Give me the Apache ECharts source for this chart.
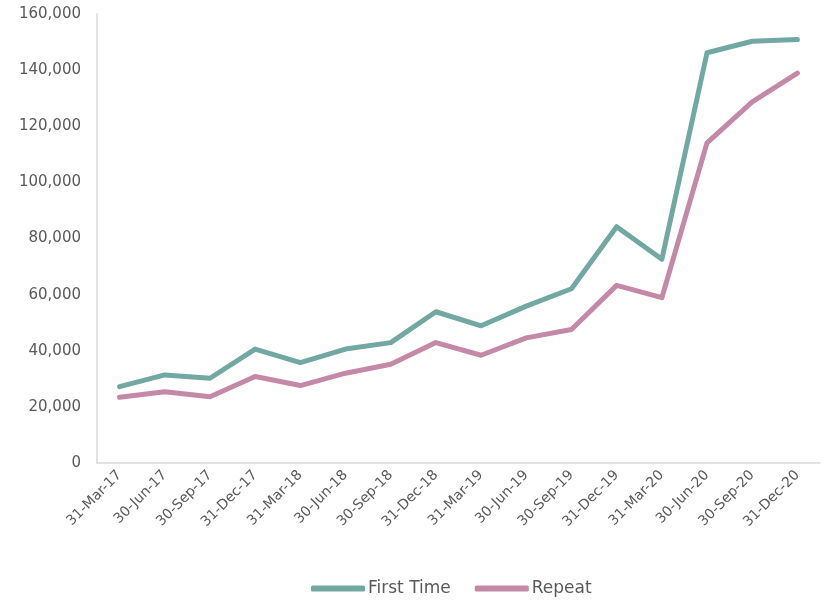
<!DOCTYPE html>
<html>
<head>
<meta charset="utf-8">
<script src="https://cdn.jsdelivr.net/npm/echarts@6/dist/echarts.min.js"></script>
<style>
  html, body { margin: 0; padding: 0; background: #fff; }
  #chart { width: 823px; height: 601px; }
</style>
</head>
<body>
<div id="chart"></div>
<script>
// Quarter-end dates
const quarters = [
  '31-Mar-17', '30-Jun-17', '30-Sep-17', '31-Dec-17',
  '31-Mar-18', '30-Jun-18', '30-Sep-18', '31-Dec-18',
  '31-Mar-19', '30-Jun-19', '30-Sep-19', '31-Dec-19',
  '31-Mar-20', '30-Jun-20', '30-Sep-20', '31-Dec-20'
];

// Counts per quarter
const firstTime = [
  27200, 31400, 30200, 40600,
  35800, 40600, 42900, 53900,
  48900, 55900, 62100, 84200,
  72600, 146200, 150300, 150900
];
const repeat = [
  23400, 25400, 23600, 30800,
  27600, 32000, 35200, 42900,
  38400, 44600, 47600, 63300,
  58900, 114100, 128700, 138900
];

const FONT = '"DejaVu Sans", sans-serif';
const TEXT = '#595959';
const TEAL = '#72a8a2';
const PINK = '#c389a6';

const chart = echarts.init(document.getElementById('chart'), null, { renderer: 'canvas' });

chart.setOption({
  animation: false,
  backgroundColor: '#ffffff',
  grid: { left: 97, right: 3, top: 14, bottom: 138, containLabel: false },
  legend: {
    top: 575,
    left: 306,
    itemWidth: 54,
    itemHeight: 6,
    itemGap: 24,
    icon: 'roundRect',
    textStyle: { fontFamily: FONT, fontSize: 17, color: TEXT, padding: [0, 0, 0, -2] },
    data: ['First Time', 'Repeat']
  },
  xAxis: {
    type: 'category',
    data: quarters,
    boundaryGap: true,
    axisLine: { lineStyle: { color: '#d9d9d9', width: 1.5 } },
    axisTick: { show: false },
    axisLabel: {
      rotate: 45,
      interval: 0,
      margin: 10,
      fontFamily: FONT,
      fontSize: 14,
      color: TEXT
    },
    splitLine: { show: false }
  },
  yAxis: {
    type: 'value',
    min: 0,
    max: 160000,
    interval: 20000,
    axisLine: { show: true, lineStyle: { color: '#d9d9d9', width: 1.5 } },
    axisTick: { show: false },
    splitLine: { show: false },
    axisLabel: {
      margin: 16,
      fontFamily: FONT,
      fontSize: 15,
      color: TEXT,
      formatter: v => v.toLocaleString('en-US')
    }
  },
  series: [
    {
      name: 'First Time',
      type: 'line',
      data: firstTime,
      symbol: 'none',
      lineStyle: { color: TEAL, width: 5, cap: 'round', join: 'round' },
      itemStyle: { color: TEAL }
    },
    {
      name: 'Repeat',
      type: 'line',
      data: repeat,
      symbol: 'none',
      lineStyle: { color: PINK, width: 5, cap: 'round', join: 'round' },
      itemStyle: { color: PINK }
    }
  ]
});
</script>
</body>
</html>
